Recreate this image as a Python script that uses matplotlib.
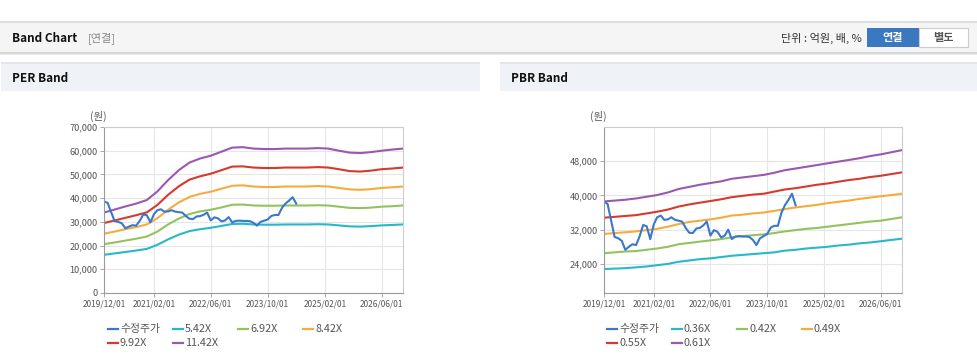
import matplotlib
matplotlib.use('Agg')
import matplotlib.pyplot as plt
from matplotlib.patches import Rectangle
from matplotlib.ticker import FuncFormatter
import pandas as pd

plt.rcParams['font.family'] = ['Noto Sans CJK KR', 'DejaVu Sans']

# x axis
band_dates = pd.date_range('2019-12-01', '2026-12-01', freq='3MS')
price_dates = pd.date_range('2019-12-01', '2024-06-01', freq='MS')
x_ticks = ['2019-12-01', '2021-02-01', '2022-06-01', '2023-10-01', '2025-02-01', '2026-06-01']
x_tick_labels = ['2019/12/01', '2021/02/01', '2022/06/01', '2023/10/01', '2025/02/01', '2026/06/01']

# adjusted close (수정주가), monthly
price = [38600, 38000, 34000, 30300, 30000, 29400, 27300, 28000, 28600, 28400,
         30400, 33100, 32800, 29800, 33300, 34900, 35300, 34300, 34400, 34900,
         34300, 34100, 33900, 32400, 31300, 31200, 32300, 32400, 33000, 33900,
         30600, 31900, 31500, 30200, 30600, 32000, 29800, 30400, 30500, 30400,
         30400, 30300, 29600, 28400, 30000, 30500, 31000, 32500, 32900, 32900,
         36000, 37700, 39000, 40400, 37700]

# PER bands, quarterly
per_labels = ['5.42X', '6.92X', '8.42X', '9.92X', '11.42X']
per_542 = [16100, 16700, 17300, 17900, 18600, 20300, 22600, 24600, 26100, 26900,
           27500, 28300, 29100, 29200, 28900, 28800, 28800, 28900, 28900, 28900,
           29000, 28900, 28500, 28100, 28000, 28200, 28500, 28700, 28900]
per_692 = [20600, 21300, 22100, 22900, 23800, 25900, 28900, 31400, 33300, 34400,
           35100, 36100, 37200, 37300, 36900, 36800, 36800, 36900, 36900, 36900,
           37000, 36900, 36400, 35900, 35800, 36000, 36400, 36600, 36900]
per_842 = [25000, 25900, 26900, 27800, 28900, 31500, 35100, 38200, 40500, 41800,
           42700, 44000, 45200, 45400, 44900, 44700, 44700, 44900, 44900, 44900,
           45100, 44900, 44300, 43700, 43500, 43800, 44300, 44600, 44900]
per_992 = [29500, 30600, 31700, 32800, 34000, 37100, 41400, 45000, 47800, 49200,
           50300, 51800, 53300, 53400, 52900, 52700, 52700, 52900, 52900, 52900,
           53100, 52900, 52200, 51400, 51200, 51600, 52200, 52500, 52900]
per_1142 = [33900, 35200, 36500, 37700, 39200, 42800, 47600, 51800, 55000, 56700,
            57900, 59600, 61300, 61500, 60900, 60700, 60700, 60900, 60900, 60900,
            61100, 60900, 60000, 59200, 59000, 59400, 60000, 60500, 60900]

# PBR bands, quarterly
pbr_labels = ['0.36X', '0.42X', '0.49X', '0.55X', '0.61X']
pbr_036 = [22800, 22900, 23000, 23200, 23400, 23700, 24000, 24500, 24800, 25100,
           25300, 25600, 25900, 26100, 26300, 26500, 26700, 27100, 27300, 27600,
           27800, 28000, 28300, 28500, 28800, 29000, 29300, 29600, 29900]
pbr_042 = [26500, 26700, 26900, 27000, 27300, 27600, 28000, 28600, 28900, 29200,
           29500, 29800, 30200, 30500, 30700, 30900, 31200, 31600, 31900, 32200,
           32400, 32700, 33000, 33300, 33600, 33900, 34100, 34500, 34900]
pbr_049 = [31000, 31200, 31400, 31600, 31900, 32200, 32700, 33300, 33800, 34100,
           34400, 34800, 35300, 35500, 35800, 36000, 36400, 36800, 37200, 37500,
           37800, 38200, 38500, 38800, 39200, 39500, 39800, 40100, 40400]
pbr_055 = [34800, 35000, 35200, 35400, 35800, 36200, 36700, 37400, 37900, 38300,
           38700, 39100, 39600, 39900, 40200, 40400, 40900, 41400, 41700, 42100,
           42500, 42800, 43200, 43600, 43900, 44300, 44600, 45000, 45400]
pbr_061 = [38600, 38800, 39000, 39300, 39700, 40100, 40700, 41500, 42000, 42500,
           42900, 43300, 43900, 44200, 44500, 44800, 45300, 45900, 46300, 46700,
           47100, 47500, 47900, 48300, 48700, 49200, 49600, 50100, 50600]

price_label = '수정주가'
colors = ['#3a78cc', '#26b9c9', '#93c25e', '#f5ab40', '#d8382e', '#9a58b0']

fig = plt.figure(figsize=(9.78, 3.62), dpi=100)

# background layer in pixel coordinates
bg = fig.add_axes([0, 0, 1, 1], zorder=0)
bg.set_xlim(0, 978)
bg.set_ylim(362, 0)
bg.axis('off')

# top header
bg.add_patch(Rectangle((0, 21), 978, 1.5, color='#dedede', lw=0))
bg.add_patch(Rectangle((0, 22.5), 978, 29.5, color='#f5f5f5', lw=0))
bg.add_patch(Rectangle((0, 52), 978, 1.5, color='#d6d6d6', lw=0))
bg.add_patch(Rectangle((0, 53.5), 978, 1.5, color='#ececec', lw=0))
bg.text(12, 38, 'Band Chart', fontsize=8.5, fontweight='bold', color='#111', va='center')
bg.text(88, 38, '[연결]', fontsize=8, color='#888', va='center')
bg.text(862, 38, '단위 : 억원, 배, %', fontsize=8, color='#333', va='center', ha='right')
bg.add_patch(Rectangle((867, 28), 52, 19, color='#3b78bf', lw=0))
bg.add_patch(Rectangle((919, 28), 49, 19, facecolor='white', edgecolor='#cccccc', lw=0.8))
bg.text(893, 37.5, '연결', fontsize=8, fontweight='bold', color='white', ha='center', va='center')
bg.text(943.5, 37.5, '별도', fontsize=8, fontweight='bold', color='#555', ha='center', va='center')

# panel headers
for x0, x1, title in [(1, 480, 'PER Band'), (500, 978, 'PBR Band')]:
    bg.add_patch(Rectangle((x0, 62), x1 - x0, 2, color='#e2e5e9', lw=0))
    bg.add_patch(Rectangle((x0, 64), x1 - x0, 27, color='#eff2f6', lw=0))
    bg.text(x0 + 11, 78, title, fontsize=8.5, fontweight='bold', color='#111', va='center')


def setup(ax, ylim, yticks):
    ax.set_xlim(pd.Timestamp('2019-12-01'), pd.Timestamp('2026-12-01'))
    ax.set_ylim(*ylim)
    ax.set_yticks(yticks)
    ax.yaxis.set_major_formatter(FuncFormatter(lambda v, p: f'{v:,.0f}'))
    ax.set_xticks(pd.to_datetime(x_ticks))
    ax.set_xticklabels(x_tick_labels)
    ax.grid(color='#e6e6e6', lw=0.8)
    ax.set_axisbelow(True)
    ax.tick_params(labelsize=6, labelcolor='#555', color='#999', length=3, width=0.6, pad=1.5)
    ax.tick_params(axis='y', labelsize=6.6)
    for s in ['left', 'bottom']:
        ax.spines[s].set_color('#9a9a9a')
        ax.spines[s].set_linewidth(0.8)
    for s in ['top', 'right']:
        ax.spines[s].set_color('#cccccc')
        ax.spines[s].set_linewidth(0.8)


def legend(x0, labels):
    items = [price_label] + labels
    for i, lab in enumerate(items):
        x = x0 + (i % 4) * 65
        y = 329 + (i // 4) * 14
        bg.plot([x, x + 10], [y, y], color=colors[i], lw=1.6)
        bg.text(x + 12, y, lab, fontsize=7.8, color='#555', va='center')


# PER
ax1 = fig.add_axes([104 / 978, 1 - 293 / 362, 299 / 978, 166 / 362], zorder=1)
for vals, c in zip([per_542, per_692, per_842, per_992, per_1142], colors[1:]):
    ax1.plot(band_dates, vals, color=c, lw=1.5)
ax1.plot(price_dates, price, color=colors[0], lw=1.5)
setup(ax1, (0, 70000), range(0, 70001, 10000))
bg.text(98, 116, '(원)', fontsize=7.5, color='#555', ha='center', va='center')
legend(108, per_labels)

# PBR
ax2 = fig.add_axes([604 / 978, 1 - 293 / 362, 298 / 978, 166 / 362], zorder=1)
for vals, c in zip([pbr_036, pbr_042, pbr_049, pbr_055, pbr_061], colors[1:]):
    ax2.plot(band_dates, vals, color=c, lw=1.5)
ax2.plot(price_dates, price, color=colors[0], lw=1.5)
setup(ax2, (17200, 56000), [24000, 32000, 40000, 48000])
bg.text(598, 116, '(원)', fontsize=7.5, color='#555', ha='center', va='center')
legend(607, pbr_labels)

fig.savefig('out.png', dpi=100)
